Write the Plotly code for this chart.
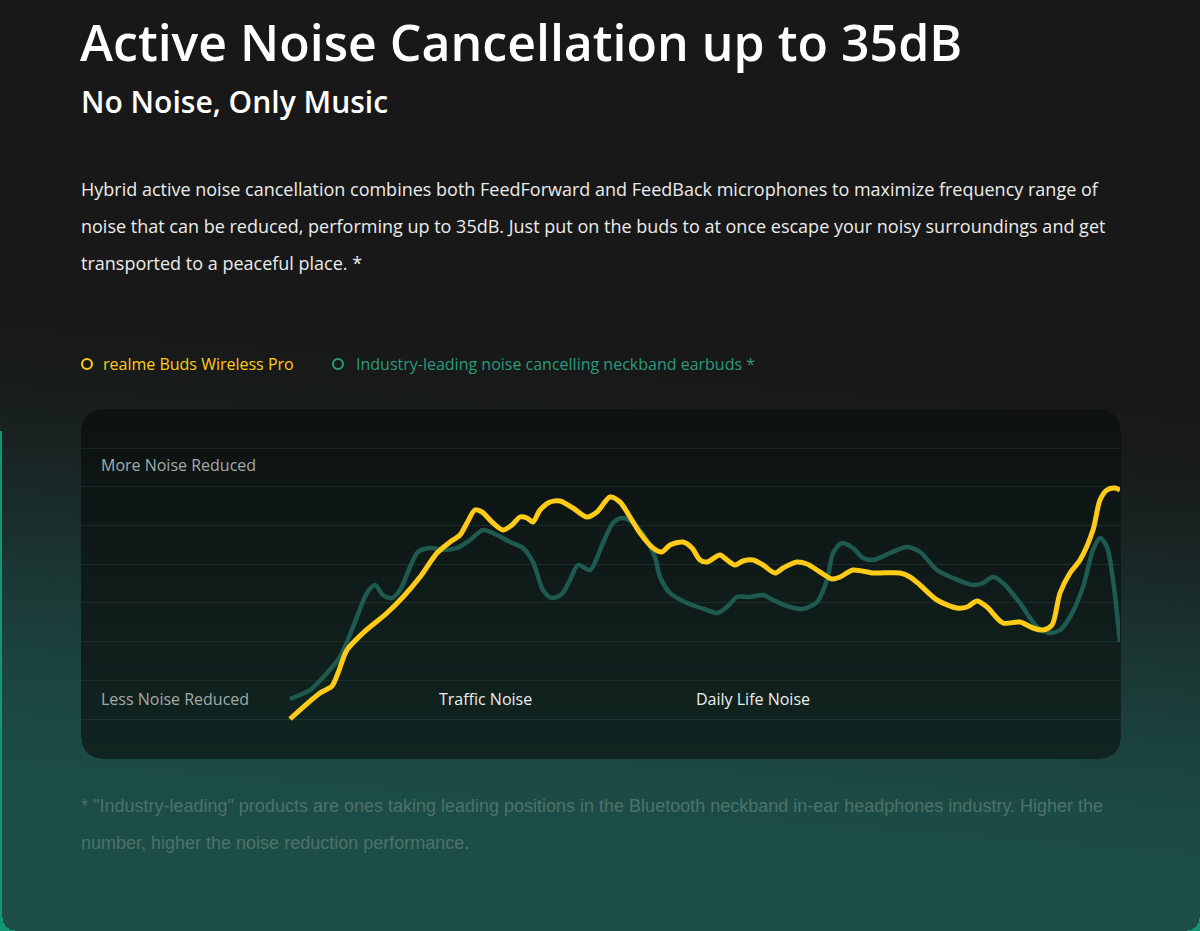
import base64, struct, zlib
import numpy as np
import plotly.graph_objects as go

# ---------------- data ----------------
series_names = ["realme Buds Wireless Pro", "Industry-leading noise cancelling neckband earbuds *"]

realme_x = [0, 30, 42, 48, 57, 73, 97, 113, 130, 147, 160, 170, 177, 185, 192, 203, 213, 222, 230, 237,
            243, 250, 260, 270, 283, 297, 307, 320, 330, 340, 350, 363, 372, 380, 393, 402, 410, 417, 430, 437,
            445, 453, 463, 473, 485, 493, 507, 517, 530, 542, 550, 563, 583, 610, 620, 630, 647, 667, 677, 687,
            697, 713, 730, 743, 753, 762, 770, 780, 790, 803, 810, 817, 825, 830]
realme_y = [0, 26, 33, 46, 69, 86, 106, 122, 142, 166, 177, 184, 196, 209, 207, 196, 189, 194, 202, 201,
            197, 209, 217, 218, 211, 202, 207, 222, 217, 202, 186, 171, 167, 174, 177, 171, 159, 157, 164, 159,
            154, 158, 159, 154, 146, 151, 157, 155, 147, 140, 142, 149, 146, 146, 142, 134, 119, 111, 112, 118,
            112, 96, 97, 91, 89, 94, 126, 146, 159, 189, 219, 229, 231, 229]

rival_x = [0, 20, 37, 50, 63, 77, 85, 93, 102, 110, 120, 128, 140, 153, 167, 180, 193, 207, 220, 233,
           243, 253, 262, 272, 280, 288, 300, 313, 323, 332, 342, 355, 365, 370, 380, 397, 417, 427, 437, 447,
           460, 473, 483, 500, 513, 527, 537, 543, 552, 563, 573, 583, 600, 617, 630, 647, 663, 683, 693, 703,
           713, 730, 747, 760, 770, 780, 793, 803, 810, 817, 823, 830]
rival_y = [20, 29, 46, 62, 92, 126, 134, 124, 121, 129, 152, 167, 171, 169, 171, 179, 189, 184, 177, 171,
           157, 129, 121, 125, 139, 154, 149, 176, 196, 201, 197, 182, 162, 142, 126, 116, 109, 106, 112, 122,
           122, 124, 119, 112, 110, 117, 139, 166, 176, 171, 161, 159, 166, 172, 167, 149, 141, 134, 136, 142,
           136, 116, 92, 86, 89, 102, 132, 169, 181, 172, 139, 77]

band_labels = ["Traffic Noise", "Daily Life Noise"]
axis_labels = ["More Noise Reduced", "Less Noise Reduced"]

title = "Active Noise Cancellation up to 35dB"
subtitle = "No Noise, Only Music"
body_lines = [
    "Hybrid active noise cancellation combines both FeedForward and FeedBack microphones to maximize frequency range of",
    "noise that can be reduced, performing up to 35dB. Just put on the buds to at once escape your noisy surroundings and get",
    "transported to a peaceful place. *",
]
foot_lines = [
    '* "Industry-leading" products are ones taking leading positions in the Bluetooth neckband in-ear headphones industry. Higher the',
    "number, higher the noise reduction performance.",
]

# ---------------- styling ----------------
W, H = 1200, 931
PL, PR, PT, PB = 81, 1120, 409, 758  # plot (panel) box in pixels
YELLOW = "#ffcb17"
TEAL_LINE = "#1e5a4f"
TEAL_TEXT = "#2c9a7d"
FONT = "Open Sans"


def rr_mask(xx, yy, x0, y0, x1, y1, r):
    inside = (xx >= x0) & (xx <= x1) & (yy >= y0) & (yy <= y1)
    cx = np.clip(xx, x0 + r, x1 - r)
    cy = np.clip(yy, y0 + r, y1 - r)
    return inside & (((xx - cx) ** 2 + (yy - cy) ** 2) <= r * r)


def background_png():
    yy, xx = np.mgrid[0:H, 0:W].astype(float)
    t = np.clip((yy - 330 - (xx - 600) * 0.08) / 520.0, 0, 1)
    t = t * t * (3 - 2 * t)
    top = np.array([24, 24, 24], float)
    bot = np.array([29, 77, 71], float)
    img = top + (bot - top) * t[..., None]
    # chart panel
    pm = rr_mask(xx, yy, PL, PT, PR, PB, 20)
    t2 = np.clip((yy - PT) / (PB - PT), 0, 1)
    ptop = np.array([14, 18, 18], float)
    pbot = np.array([17, 37, 33], float)
    pcol = ptop + (pbot - ptop) * t2[..., None]
    img[pm] = pcol[pm]
    # outer card edge (thin teal rim on the left, rounded bottom corners)
    card = rr_mask(xx, yy, 2, -50, W - 1, H - 1, 13)
    outer = (~card) & (yy > 430)
    img[outer] = np.array([20, 150, 118], float)
    img = np.clip(img, 0, 255).astype(np.uint8)
    raw = b"".join(b"\x00" + row.tobytes() for row in img)

    def chunk(tag, data):
        c = struct.pack(">I", len(data)) + tag + data
        return c + struct.pack(">I", zlib.crc32(tag + data) & 0xFFFFFFFF)

    png = b"\x89PNG\r\n\x1a\n" + chunk(b"IHDR", struct.pack(">IIBBBBB", W, H, 8, 2, 0, 0, 0)) \
        + chunk(b"IDAT", zlib.compress(raw, 9)) + chunk(b"IEND", b"")
    return "data:image/png;base64," + base64.b64encode(png).decode()


def fx(px):
    return (px - PL) / (PR - PL)


def fy(py):
    return (PB - py) / (PB - PT)


fig = go.Figure()
fig.add_trace(go.Scatter(x=rival_x, y=rival_y, mode="lines", name=series_names[1],
                         line=dict(color=TEAL_LINE, width=4.5, shape="spline", smoothing=0.8),
                         hoverinfo="skip", showlegend=False))
fig.add_trace(go.Scatter(x=realme_x, y=realme_y, mode="lines", name=series_names[0],
                         line=dict(color=YELLOW, width=5, shape="spline", smoothing=0.8),
                         hoverinfo="skip", showlegend=False))

ann = []


def text(s, x, y, size, color, weight=400, family=FONT, xanchor="left"):
    ann.append(dict(text=s, x=fx(x), y=fy(y), xref="paper", yref="paper", showarrow=False,
                    xanchor=xanchor, yanchor="middle",
                    font=dict(family=family, size=size, color=color, weight=weight)))


text(title, 78, 42, 50, "#ffffff", 600)
text(subtitle, 79, 101, 30, "#ffffff", 600)
for i, line in enumerate(body_lines):
    text(line, 79, 189 + 37 * i, 18, "#ececec")
text(series_names[0], 101, 364, 16, YELLOW)
text(series_names[1], 354, 364, 16, TEAL_TEXT)
text(axis_labels[0], 99, 465, 16, "#a3abaa")
text(axis_labels[1], 99, 699, 16, "#a3abaa")
text(band_labels[0], 485, 699, 16, "#eeeeee", xanchor="center")
text(band_labels[1], 753, 699, 16, "#eeeeee", xanchor="center")
for i, line in enumerate(foot_lines):
    text(line, 79, 806 + 37 * i, 18, "#4c736b", family="Liberation Sans, Arial")

shapes = [
    dict(type="circle", xref="paper", yref="paper", x0=fx(82), x1=fx(92), y0=fy(359), y1=fy(369),
         line=dict(color=YELLOW, width=2)),
    dict(type="circle", xref="paper", yref="paper", x0=fx(333), x1=fx(343), y0=fy(359), y1=fy(369),
         line=dict(color=TEAL_TEXT, width=2)),
]

grid_step = 38.7
grid_vals = [grid_step * k for k in range(8)]

fig.update_layout(
    width=W, height=H,
    margin=dict(l=PL, r=W - PR, t=PT, b=H - PB, pad=0),
    paper_bgcolor="#181818", plot_bgcolor="rgba(0,0,0,0)",
    xaxis=dict(range=[-(290 - PL), 830], visible=False, fixedrange=True),
    yaxis=dict(range=[-(PB - 719), 719 - PT], tickmode="array", tickvals=grid_vals,
               showticklabels=False, showgrid=True, gridcolor="rgba(140,190,175,0.11)", gridwidth=1,
               zeroline=False, showline=False, ticks="", fixedrange=True),
    annotations=ann, shapes=shapes,
    images=[dict(source=background_png(), xref="paper", yref="paper",
                 x=-PL / (PR - PL), y=1 + PT / (PB - PT),
                 sizex=W / (PR - PL), sizey=H / (PB - PT),
                 xanchor="left", yanchor="top", sizing="stretch", layer="below")],
    showlegend=False,
    font=dict(family=FONT),
)

fig.write_html("out.html", config=dict(displayModeBar=False),
               post_script="document.body.style.margin='0';document.body.style.overflow='hidden';")
